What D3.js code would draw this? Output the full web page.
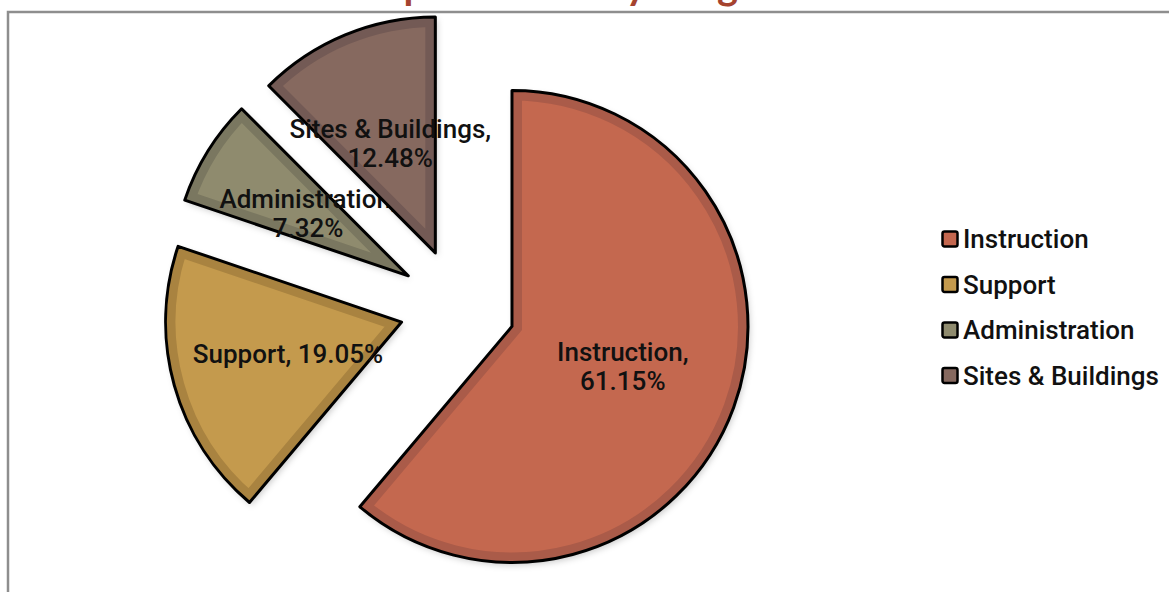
<!DOCTYPE html>
<html>
<head>
<meta charset="utf-8">
<script src="https://cdn.jsdelivr.net/npm/d3@7"></script>
<style>
  body { margin: 0; background: #fff; }
  svg { display: block; }
  .lbl { font-family: Roboto, "Liberation Sans", Arial, sans-serif; font-weight: 500; font-size: 26px; fill: #111; }
</style>
</head>
<body>
<div id="container"></div>
<script>
/* DATA */
const categories = ["Instruction", "Support", "Administration", "Sites & Buildings"];
const shares = [61.15, 19.05, 7.32, 12.48];
const titleText = "Expenditures by Program";

/* CONSTANTS */
const width = 1169, height = 592;
const cx = 457.5, cy = 306.5;   // pie centre
const R = 236;                   // radius
const explode = 58;              // every slice pulled out
const lightFill = ["#c4674f", "#c49a4d", "#8f8b6e", "#86695f"];
const bandFill  = ["#aa5b49", "#a98340", "#7a7760", "#735a55"];

const svg = d3.select("#container")
  .append("svg")
  .attr("width", width)
  .attr("height", height);

const defs = svg.append("defs");
defs.append("filter")
  .attr("id", "shadow")
  .attr("x", "-20%").attr("y", "-20%").attr("width", "140%").attr("height", "140%")
  .append("feDropShadow")
  .attr("dx", 2).attr("dy", 3).attr("stdDeviation", 3)
  .attr("flood-color", "#000").attr("flood-opacity", 0.2);

// title (cut off at the top, like the source)
svg.append("text")
  .attr("x", 583)
  .attr("y", -1)
  .attr("text-anchor", "middle")
  .style("font-family", "Lato, 'Open Sans', sans-serif")
  .style("font-weight", 700)
  .style("font-size", "40px")
  .style("fill", "#a5432f")
  .text(titleText);

// chart area frame
svg.append("rect")
  .attr("x", 8).attr("y", 12)
  .attr("width", width + 20).attr("height", height + 20)
  .attr("fill", "none")
  .attr("stroke", "#8e8e8e")
  .attr("stroke-width", 2.5);

/* PIE */
const pie = d3.pie().sort(null).value(d => d);
const arc = d3.arc().innerRadius(0).outerRadius(R);
const arcs = pie(shares);

const g = svg.append("g").attr("transform", `translate(${cx},${cy})`);

const slices = g.selectAll("g.slice")
  .data(arcs)
  .join("g")
  .attr("class", "slice")
  .attr("transform", d => {
    const mid = (d.startAngle + d.endAngle) / 2;
    return `translate(${Math.sin(mid) * explode},${-Math.cos(mid) * explode})`;
  });

slices.each(function(d, i) {
  defs.append("clipPath").attr("id", "clip" + i)
    .append("path").attr("d", arc(d));
});

slices.append("path")
  .attr("d", arc)
  .attr("fill", (d, i) => lightFill[i])
  .attr("filter", "url(#shadow)");

slices.append("path")
  .attr("d", arc)
  .attr("fill", "none")
  .attr("stroke", (d, i) => bandFill[i])
  .attr("stroke-width", 20)
  .attr("stroke-linejoin", "miter")
  .attr("stroke-miterlimit", 20)
  .attr("clip-path", (d, i) => `url(#clip${i})`);

slices.append("path")
  .attr("d", arc)
  .attr("fill", "none")
  .attr("stroke", "#000")
  .attr("stroke-width", 3)
  .attr("stroke-linejoin", "round");

// data labels
const lineH = 29;
slices.each(function(d, i) {
  const [lx, ly] = arc.centroid(d);
  const t = d3.select(this).append("text")
    .attr("class", "lbl")
    .attr("text-anchor", "middle")
    .attr("x", lx).attr("y", ly);
  const name = categories[i] + ",";
  const pct = shares[i].toFixed(2) + "%";
  t.text(name + " " + pct);
  if (t.node().getComputedTextLength() < 210) {
    t.attr("dy", "0.35em");
  } else {
    t.text(null);
    t.append("tspan").attr("x", lx).attr("y", ly - lineH / 2).attr("dy", "0.35em").text(name);
    t.append("tspan").attr("x", lx).attr("y", ly + lineH / 2).attr("dy", "0.35em").text(pct);
  }
});

/* LEGEND */
const legend = svg.append("g").attr("transform", "translate(942,239)");
const rows = legend.selectAll("g")
  .data(categories)
  .join("g")
  .attr("transform", (d, i) => `translate(0,${i * 45.5})`);

rows.append("rect")
  .attr("x", 0.5).attr("y", -7.5)
  .attr("width", 15).attr("height", 15)
  .attr("rx", 2)
  .attr("fill", (d, i) => lightFill[i])
  .attr("stroke", "#000")
  .attr("stroke-width", 2.5);

rows.append("text")
  .attr("class", "lbl")
  .attr("x", 21)
  .attr("dy", "0.36em")
  .text(d => d);
</script>
</body>
</html>
